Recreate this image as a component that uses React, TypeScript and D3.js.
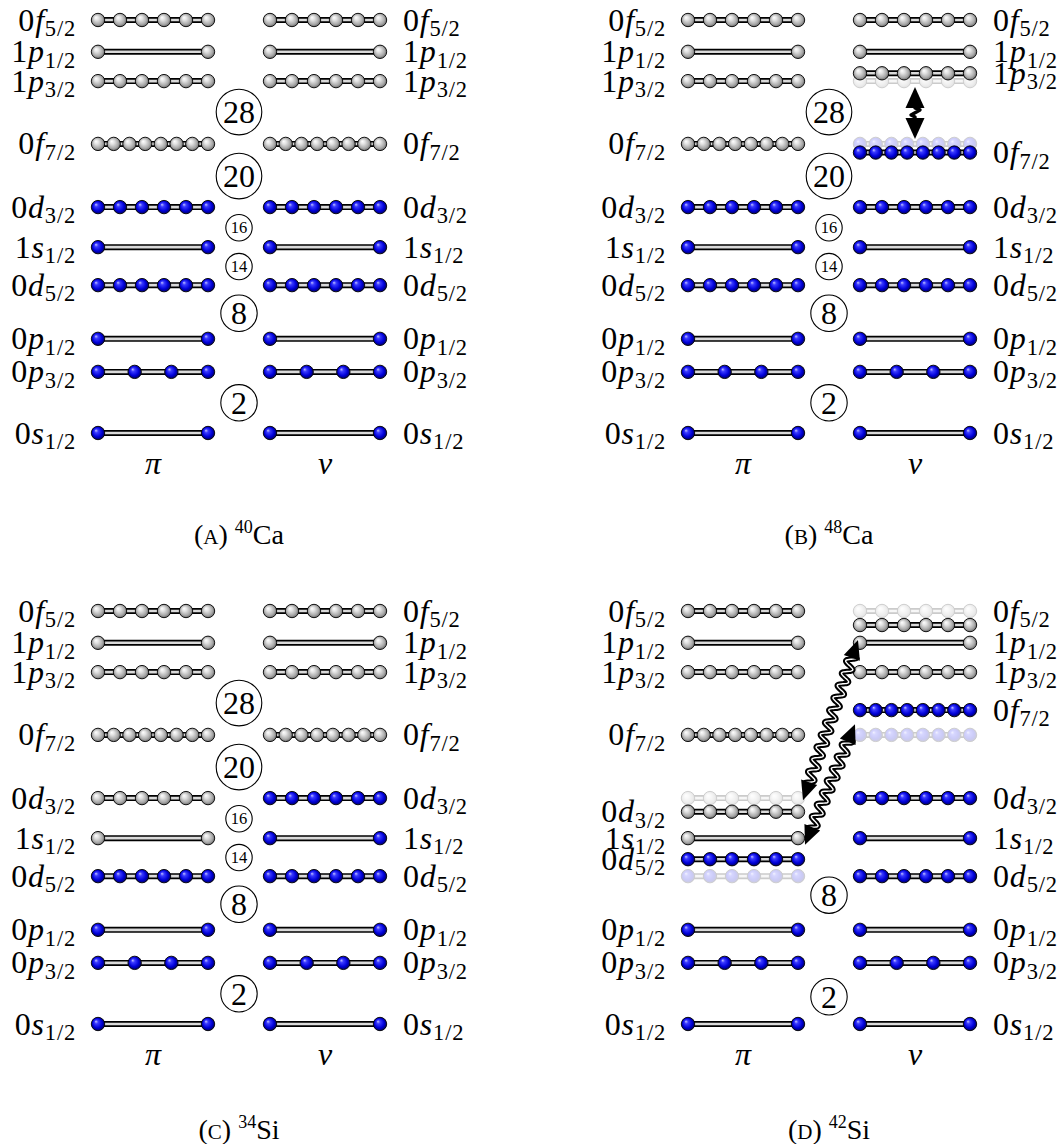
import React from "react";
import * as d3 from "d3";

// ---------- data ----------
const orbitalN = ["0", "0", "0", "0", "1", "0", "0", "1", "1", "0"];
const orbitalL = ["s", "p", "p", "d", "s", "d", "f", "p", "p", "f"];
const orbitalJ = ["1/2", "3/2", "1/2", "5/2", "1/2", "3/2", "7/2", "3/2", "1/2", "5/2"];
const orbitalBalls = [2, 4, 2, 6, 2, 6, 8, 6, 2, 6];
const orbitalEnergy = [0, 14.8, 22.8, 35.8, 45, 54.7, 70, 85.2, 92.3, 100];

const panelLetters = ["A", "B", "C", "D"];
const panelMass = ["40", "48", "34", "42"];
const panelElement = ["Ca", "Ca", "Si", "Si"];
const protonFilled = [6, 6, 4, 4];
const neutronFilled = [6, 7, 6, 7];

const magicShown = [
  [2, 8, 14, 16, 20, 28],
  [2, 8, 14, 16, 20, 28],
  [2, 8, 14, 16, 20, 28],
  [2, 8],
];
const magicLevel = [
  [7.3, 29, 40.3, 49.7, 62.2, 77.7],
  [7.3, 29, 40.3, 49.7, 62.2, 77.7],
  [7.3, 29, 40.3, 49.7, 62.2, 77.7],
  [6.6, 31.2],
];

// shifted orbitals (ghost left at original energy)
const shiftPanel = [1, 1, 3, 3, 3, 3];
const shiftSpecies = ["nu", "nu", "pi", "pi", "nu", "nu"];
const shiftOrbital = [7, 6, 5, 3, 9, 6];
const shiftEnergy = [87.1, 67.9, 51.4, 39.9, 96.6, 76];
const shiftLabelEnergy = [87.1, 67.9, 51.4, 39.9, 100, 76];

// straight double arrow (panel B, neutrons)
const gapArrowPanel = [1];
const gapArrowFrom = [71.2];
const gapArrowTo = [83.8];

// wavy excitation arrows (panel D, pi -> nu)
const waveArrowPanel = [3, 3];
const waveArrowFrom = [54.2, 43.4];
const waveArrowTo = [93.0, 72.6];

// ---------- layout ----------
const W = 1064;
const H = 1144;
const panelX = [0, 590, 0, 590];
const panelY = [0, 0, 591, 591];
const captionY = [544, 544, 1139, 1139];
const FONT = "'Liberation Serif', 'DejaVu Serif', serif";
const BALL_R = 6.7;

const yScale = d3.scaleLinear().domain([0, 100]).range([433, 20]);
const xPi = d3.scaleLinear().domain([0, 1]).range([98, 208]);
const xNu = d3.scaleLinear().domain([0, 1]).range([270, 380]);
const CENTER_X = 239;

function Orbital({ xs, y, n, filled, ghost }) {
  const pts = d3.range(n).map((i) => xs(n === 1 ? 0 : i / (n - 1)));
  return (
    <g opacity={ghost ? 0.2 : 1}>
      <line x1={xs(0)} x2={xs(1)} y1={y} y2={y} stroke="#000" strokeWidth={6} />
      <line x1={xs(0)} x2={xs(1)} y1={y} y2={y} stroke="#dadada" strokeWidth={2.6} />
      {pts.map((x, i) => (
        <circle
          key={i}
          cx={x}
          cy={y}
          r={BALL_R}
          fill={filled ? "url(#ballBlue)" : "url(#ballGray)"}
          stroke="#000"
          strokeWidth={0.9}
        />
      ))}
    </g>
  );
}

function Label({ x, y, idx, anchor }) {
  return (
    <text x={x} y={y + 10.5} fontSize={32} fontFamily={FONT} textAnchor={anchor} letterSpacing={0.8} fill="#000">
      {orbitalN[idx]}
      <tspan fontStyle="italic">{orbitalL[idx]}</tspan>
      <tspan fontSize={22.5} dy={5.5}>
        {orbitalJ[idx]}
      </tspan>
    </text>
  );
}

function arrowHead(tx, ty, ux, uy, len, hw) {
  const bx = tx - ux * len;
  const by = ty - uy * len;
  const px = -uy;
  const py = ux;
  return `M${tx},${ty}L${bx + px * hw},${by + py * hw}L${bx - px * hw},${by - py * hw}Z`;
}

function WavyArrow({ x1, y1, x2, y2 }) {
  const dx = x2 - x1;
  const dy = y2 - y1;
  const L = Math.hypot(dx, dy);
  const ux = dx / L;
  const uy = dy / L;
  const px = -uy;
  const py = ux;
  const head = 19;
  const amp = 5;
  const wl = 13;
  const pts = d3.range(head - 3, L - head + 3, 0.8).map((s) => {
    const off = amp * Math.sin((2 * Math.PI * (s - head)) / wl);
    return [x1 + ux * s + px * off, y1 + uy * s + py * off];
  });
  const line = d3.line().curve(d3.curveBasis);
  const d = line(pts);
  return (
    <g>
      <path d={d} fill="none" stroke="#000" strokeWidth={5.4} strokeLinejoin="round" />
      <path d={d} fill="none" stroke="#fff" strokeWidth={1.4} strokeLinejoin="round" />
      <path d={arrowHead(x1, y1, -ux, -uy, head, 8.5)} fill="#000" />
      <path d={arrowHead(x2, y2, ux, uy, head, 8.5)} fill="#000" />
    </g>
  );
}

function GapArrow({ x, yLow, yHigh }) {
  const head = 21;
  const hw = 9.5;
  const top = yHigh;
  const bot = yLow;
  const mid = (top + bot) / 2;
  return (
    <g>
      <path d={arrowHead(x, top, 0, -1, head, hw)} fill="#000" />
      <path d={arrowHead(x, bot, 0, 1, head, hw)} fill="#000" />
      <path
        d={`M${x},${top + head - 2}L${x},${mid - 5}L${x + 5},${mid - 3}L${x - 4},${mid + 2}L${x},${mid + 4}L${x},${bot - head + 2}`}
        fill="none"
        stroke="#000"
        strokeWidth={3.4}
        strokeLinejoin="round"
      />
    </g>
  );
}

function Panel({ p }) {
  const items = [];
  const species = ["pi", "nu"];
  species.forEach((sp) => {
    const xs = sp === "pi" ? xPi : xNu;
    const filledCount = sp === "pi" ? protonFilled[p] : neutronFilled[p];
    orbitalEnergy.forEach((e0, i) => {
      const k = shiftPanel.findIndex(
        (pp, j) => pp === p && shiftSpecies[j] === sp && shiftOrbital[j] === i
      );
      const filled = i < filledCount;
      const e = k >= 0 ? shiftEnergy[k] : e0;
      const le = k >= 0 ? shiftLabelEnergy[k] : e0;
      if (k >= 0) {
        items.push({ z: 0, el: <Orbital key={`${sp}g${i}`} xs={xs} y={yScale(e0)} n={orbitalBalls[i]} filled={filled} ghost /> });
      }
      items.push({ z: 1, el: <Orbital key={`${sp}o${i}`} xs={xs} y={yScale(e)} n={orbitalBalls[i]} filled={filled} ghost={false} /> });
      items.push({
        z: 1,
        el: sp === "pi"
          ? <Label key={`${sp}l${i}`} x={76} y={yScale(le)} idx={i} anchor="end" />
          : <Label key={`${sp}l${i}`} x={403} y={yScale(le)} idx={i} anchor="start" />,
      });
    });
  });
  items.sort((a, b) => a.z - b.z);

  return (
    <g transform={`translate(${panelX[p]},${panelY[p]})`}>
      {items.map((it) => it.el)}
      {magicShown[p].map((m, i) => {
        const cy = yScale(magicLevel[p][i]);
        const small = m === 14 || m === 16;
        const r = small ? 13.2 : m >= 10 ? 22.8 : 18.2;
        return (
          <g key={`m${m}`}>
            <circle cx={CENTER_X} cy={cy} r={r} fill="#fff" stroke="#000" strokeWidth={1.1} />
            <text
              x={CENTER_X}
              y={cy + (small ? 5.6 : 11)}
              fontSize={small ? 16.5 : 32}
              fontFamily={FONT}
              textAnchor="middle"
            >
              {m}
            </text>
          </g>
        );
      })}
      {gapArrowPanel.map((pp, i) =>
        pp === p ? (
          <GapArrow key={`ga${i}`} x={xNu(0.5)} yLow={yScale(gapArrowFrom[i])} yHigh={yScale(gapArrowTo[i])} />
        ) : null
      )}
      {waveArrowPanel.map((pp, i) =>
        pp === p ? (
          <WavyArrow
            key={`wa${i}`}
            x1={xPi(1) + 5 + i * 2}
            y1={yScale(waveArrowFrom[i])}
            x2={xNu(0) - 2 - i * 3}
            y2={yScale(waveArrowTo[i])}
          />
        ) : null
      )}
      <text x={(xPi(0) + xPi(1)) / 2} y={474} fontSize={32} fontStyle="italic" fontFamily={FONT} textAnchor="middle">
        π
      </text>
      <text x={(xNu(0) + xNu(1)) / 2} y={474} fontSize={32} fontStyle="italic" fontFamily={FONT} textAnchor="middle">
        ν
      </text>
    </g>
  );
}

export default function App() {
  return (
    <svg
      width={W}
      height={H}
      viewBox={`0 0 ${W} ${H}`}
      style={{ position: "absolute", left: 0, top: 0, background: "#fff" }}
    >
      <defs>
        <radialGradient id="ballBlue" cx="50%" cy="50%" r="55%" fx="34%" fy="30%">
          <stop offset="0%" stopColor="#c4c4ff" />
          <stop offset="25%" stopColor="#3a3aff" />
          <stop offset="65%" stopColor="#0000d8" />
          <stop offset="100%" stopColor="#00004a" />
        </radialGradient>
        <radialGradient id="ballGray" cx="50%" cy="50%" r="55%" fx="34%" fy="30%">
          <stop offset="0%" stopColor="#ffffff" />
          <stop offset="30%" stopColor="#e2e2e2" />
          <stop offset="70%" stopColor="#a9a9a9" />
          <stop offset="100%" stopColor="#5a5a5a" />
        </radialGradient>
      </defs>
      {panelLetters.map((_, p) => (
        <Panel key={p} p={p} />
      ))}
      {panelLetters.map((letter, p) => (
        <text
          key={`cap${p}`}
          x={panelX[p] + CENTER_X}
          y={captionY[p]}
          fontSize={28}
          fontFamily={FONT}
          textAnchor="middle"
        >
          (<tspan fontSize={21}>{letter}</tspan>){" "}
          <tspan fontSize={18} dy={-11}>
            {panelMass[p]}
          </tspan>
          <tspan dy={11}>{panelElement[p]}</tspan>
        </text>
      ))}
    </svg>
  );
}
